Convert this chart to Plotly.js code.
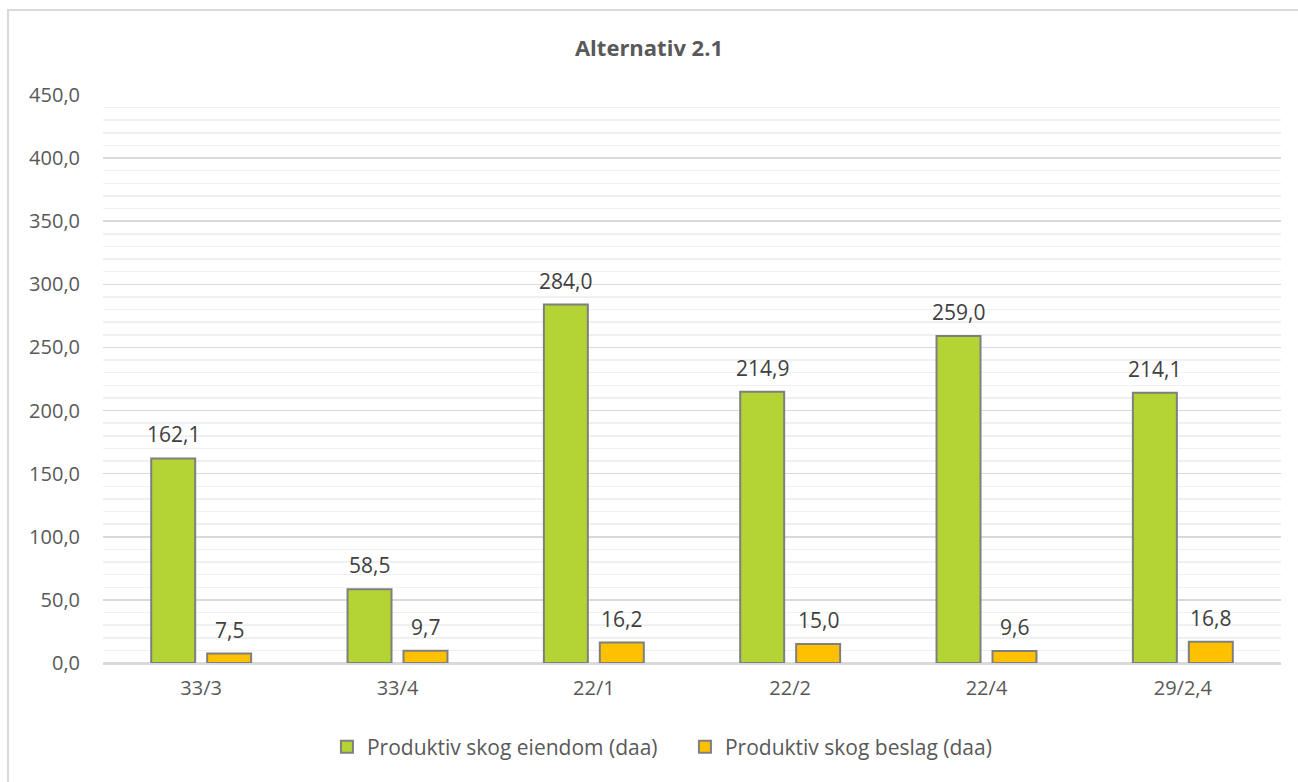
<!DOCTYPE html>
<html>
<head>
<meta charset="utf-8">
<script src="https://cdn.plot.ly/plotly-3.0.1.min.js"></script>
<style>
  html, body { margin: 0; padding: 0; background: #ffffff; }
  #wrap { position: relative; width: 1298px; height: 782px; overflow: hidden; }
  #frame { position: absolute; left: 7px; top: 9px; width: 1300px; height: 800px;
           border-left: 2px solid #d9d9d9; border-top: 2px solid #d9d9d9; pointer-events: none; }
  #chart { position: absolute; left: 0; top: 0; width: 1298px; height: 782px; }
</style>
</head>
<body>
<div id="wrap">
  <div id="chart"></div>
  <div id="frame"></div>
</div>
<script>
// Property numbers (gnr/bnr)
const categories = ["33/3", "33/4", "22/1", "22/2", "22/4", "29/2,4"];
// Productive forest on the property and the part taken (daa)
const eiendom = [162.1, 58.5, 284.0, 214.9, 259.0, 214.1];
const beslag = [7.5, 9.7, 16.2, 15.0, 9.6, 16.8];
const seriesNames = ["Produktiv skog eiendom (daa)", "Produktiv skog beslag (daa)"];

const FONT = "Open Sans, Lato, Noto Sans, sans-serif";

function barTrace(values, name, color) {
  return {
    type: "bar",
    x: categories,
    y: values,
    name: name,
    marker: { color: color, line: { color: "#7f7f7f", width: 2 } },
    hoverinfo: "x+y"
  };
}

const data = [
  barTrace(eiendom, seriesNames[0], "#b4d334"),
  barTrace(beslag, seriesNames[1], "#ffc000")
];

// Value labels above each bar, shifted sideways to sit over its bar in the group
const fmt = v => v.toFixed(1).replace(".", ",");
const annotations = [];
[[eiendom, -28], [beslag, 28]].forEach(([vals, dx]) => {
  vals.forEach((v, i) => {
    annotations.push({
      x: categories[i], y: v, xref: "x", yref: "y",
      text: fmt(v), showarrow: false,
      xshift: dx, yanchor: "bottom", yshift: 8,
      font: { family: FONT, size: 21, color: "#404040" }
    });
  });
});

const layout = {
  width: 1298,
  height: 782,
  separators: ", ",
  paper_bgcolor: "#ffffff",
  plot_bgcolor: "#ffffff",
  margin: { l: 103, r: 17, t: 95, b: 119 },
  title: {
    text: "<b>Alternativ 2.1</b>",
    font: { family: FONT, size: 22, color: "#595959" },
    x: 0.5, xanchor: "center",
    yref: "container", y: 1 - 48 / 782, yanchor: "middle"
  },
  barmode: "group",
  bargap: 0.43,
  bargroupgap: 0.214,
  xaxis: {
    type: "category",
    showgrid: false,
    showline: true,
    linecolor: "#d9d9d9",
    linewidth: 2,
    ticks: "",
    tickfont: { family: FONT, size: 20, color: "#595959" },
    ticklabelstandoff: 6
  },
  yaxis: {
    range: [0, 450],
    dtick: 50,
    tickformat: ".1f",
    showgrid: true,
    gridcolor: "#d9d9d9",
    gridwidth: 1.5,
    zeroline: true,
    zerolinecolor: "#d9d9d9",
    zerolinewidth: 2,
    showline: false,
    ticks: "",
    tickfont: { family: FONT, size: 20, color: "#595959" },
    ticklabelstandoff: 22,
    minor: { dtick: 10, showgrid: true, gridcolor: "#f0f0f0", gridwidth: 1.5 }
  },
  annotations: annotations,
  showlegend: true,
  legend: {
    orientation: "h",
    x: 0.494, xanchor: "center",
    y: -0.148, yanchor: "middle",
    font: { family: FONT, size: 21, color: "#595959" },
    itemwidth: 30,
    entrywidth: 313,
    traceorder: "normal"
  }
};

Plotly.newPlot("chart", data, layout, { displayModeBar: false, staticPlot: true });
</script>
</body>
</html>
